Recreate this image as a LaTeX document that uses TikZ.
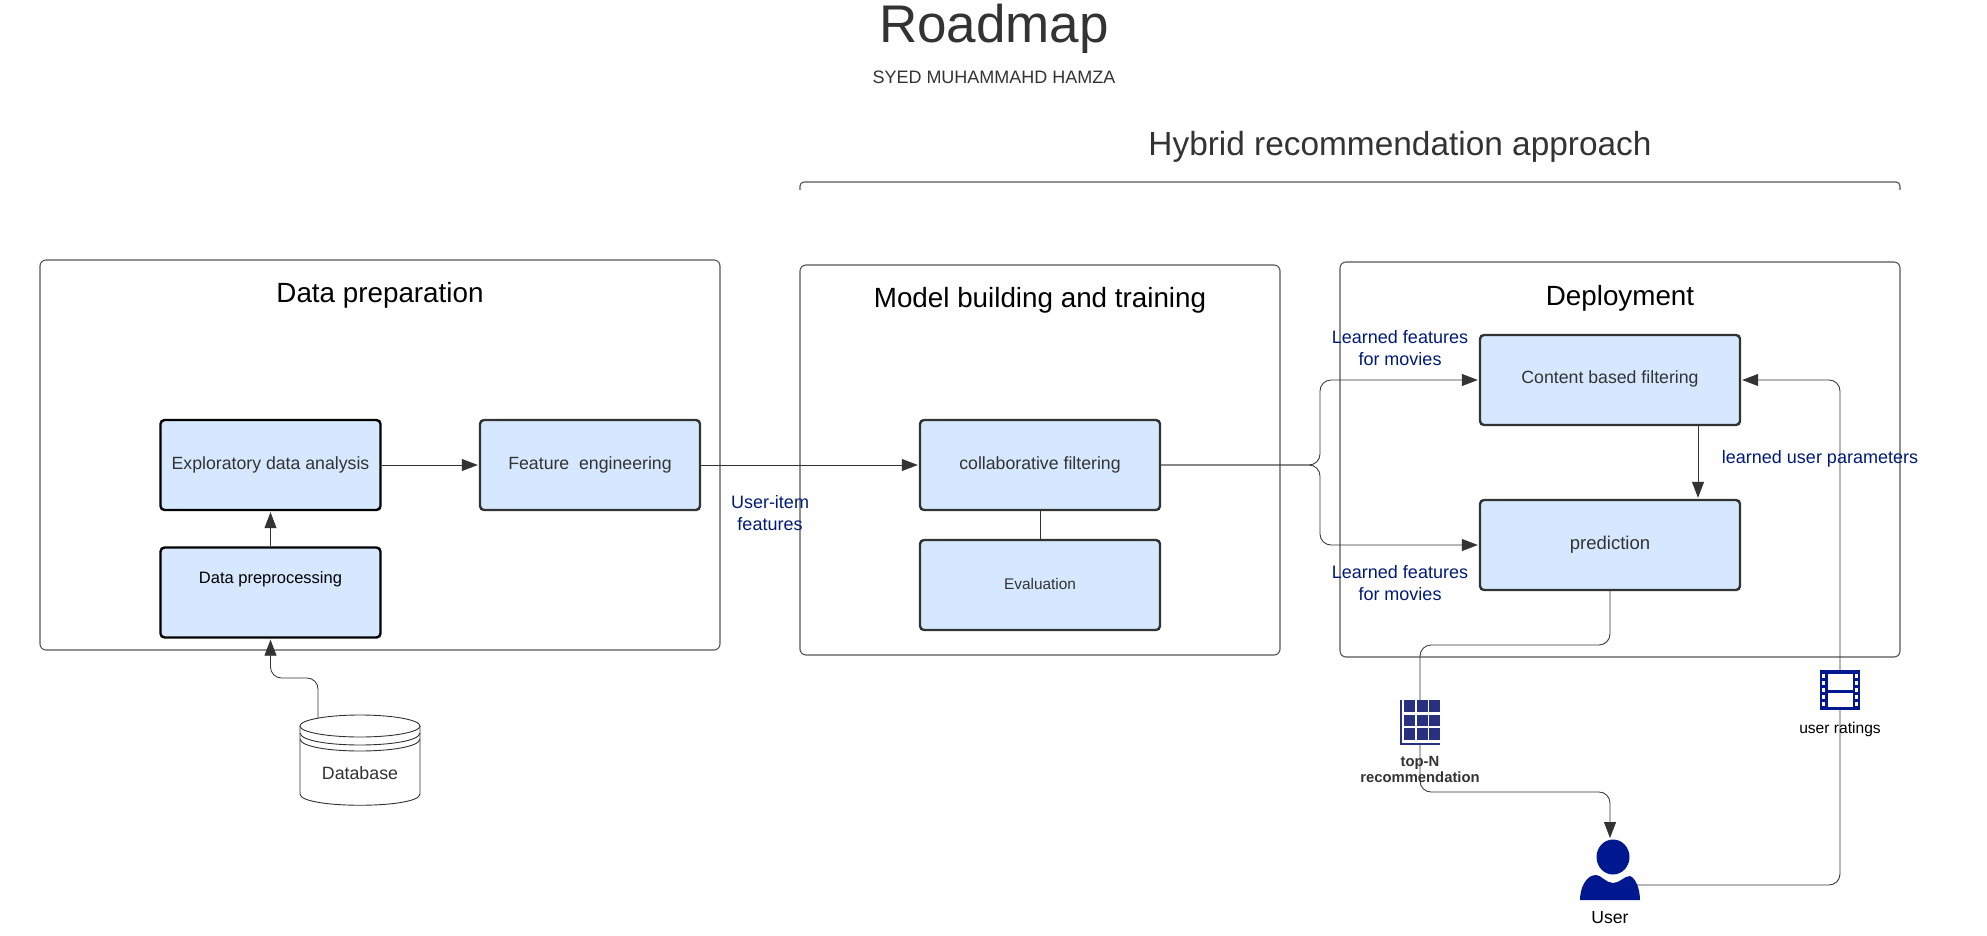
\documentclass[tikz,border=0pt]{standalone}
\usepackage{fontspec}
\setmainfont{Liberation Sans}
\usetikzlibrary{arrows.meta}
\definecolor{ink}{HTML}{333333}
\definecolor{boxfill}{HTML}{D5E8FF}
\definecolor{navy}{HTML}{00188F}
\definecolor{labelblue}{HTML}{001A78}
\definecolor{gridblue}{HTML}{2A3080}
\definecolor{framec}{HTML}{555555}
\newcommand{\fs}[1]{\fontsize{#1pt}{#1pt}\selectfont}
\tikzset{
  frame/.style={draw=framec,line width=1.1pt,rounded corners=6pt,minimum width=#1,inner sep=0pt},
  bx/.style={draw=ink,fill=boxfill,line width=2.4pt,rounded corners=4pt,minimum width=#1,minimum height=90pt,inner sep=0pt,text=ink},
  lbl/.style={inner sep=0pt,align=center,anchor=center},
  blue/.style={lbl,text=labelblue,font=\fs{18}},
  link/.style={draw=ink,line width=0.85pt,rounded corners=11pt},
  arr/.style={link,-{Triangle[length=16pt,width=12pt,color=ink]},shorten >=1pt},
}
\begin{document}
\begin{tikzpicture}[x=1pt,y=-1pt]
\useasboundingbox (0,0) rectangle (1987,936);
% frames
\node[frame=680pt,minimum height=390pt] (fdata) at (380,455) {};
\node[frame=480pt,minimum height=390pt] (fmodel) at (1040,460) {};
\node[frame=560pt,minimum height=395pt] (fdep) at (1620,459.5) {};
\draw[framec,line width=1.1pt,rounded corners=4pt] (800,190) -- (800,182) -- (1900,182) -- (1900,190);
% titles
\node[lbl,text=ink,font=\fs{53}] (title) at (994,29) {Roadmap};
\node[lbl,text=ink,font=\fs{18}] (author) at (994,77) {SYED MUHAMMAHD HAMZA};
\node[lbl,text=ink,font=\fs{33.4}] (hybrid) at (1400,147) {Hybrid recommendation approach};
\node[lbl,font=\fs{27.8}] (tdata) at (380,295) {Data preparation};
\node[lbl,font=\fs{27.8}] (tmodel) at (1040,300) {Model building and training};
\node[lbl,font=\fs{27.8}] (tdep) at (1620,298) {Deployment};
% coordinates for routes
\coordinate (split) at (1320,465);
\coordinate (drop) at (1698,460);
\coordinate (uout) at (1635,885);
\coordinate (ptop) at (1420,645);
\coordinate (pbot) at (1420,792);
\coordinate (uin) at (1610,839);
\coordinate (dbout) at (318,721);
\coordinate (dbmid) at (294,678);
% boxes
\node[bx=220pt,draw=black] (ep) at (270.5,465) {\fs{17.7}Exploratory data analysis};
\node[bx=220pt] (fe) at (590,465) {\fs{17.7}Feature\ \ engineering};
\node[bx=220pt,draw=black,text=black] (dp) at (270.5,592.5) {};
\node[lbl,font=\fs{16.5},text=black] (dpt) at (270.5,579) {Data preprocessing};
\node[bx=240pt] (cf) at (1040,465) {\fs{17.7}collaborative filtering};
\node[bx=240pt] (ev) at (1040,585) {};
\node[lbl,font=\fs{15.4},text=ink] (evt) at (1040,584) {Evaluation};
\node[bx=260pt] (cb) at (1610,380) {};
\node[lbl,font=\fs{17.7},text=ink] (cbt) at (1610,378.5) {Content based filtering};
\node[bx=260pt] (pr) at (1610,545) {\fs{18.5}prediction};
% connectors
\draw[arr] (ep) -- (fe);
\draw[arr] (fe) -- (cf);
\draw[arr] (dp) -- (ep);
\draw[link] (cf) -- (ev);
\draw[arr] (cf.east) -- (split) |- (cb.west);
\draw[arr] (cf.east) -- (split) |- (pr.west);
\draw[arr] (cb.south -| drop) -- (pr.north -| drop);
\draw[arr] (uout) -| (1840,600) |- (cb.east);
\draw[arr] (pr.south) |- (ptop) -- (pbot) -| (uin);
\draw[arr] (dbout) |- (dbmid) -| (dp.south);
% database
\begin{scope}[draw=ink,line width=0.9pt]
\draw[fill=white] (300,726) -- (300,794) .. controls (300,809) and (420,809) .. (420,794) -- (420,726);
\draw[fill=white] (360,726) ellipse [x radius=60,y radius=11];
\draw (300,733) .. controls (302,749) and (418,749) .. (420,733);
\draw (300,739) .. controls (302,755) and (418,755) .. (420,739);
\end{scope}
\node[lbl,text=ink,font=\fs{17.8}] (db) at (360,773) {Database};
% blue labels
\node[blue] (lf1) at (1400,348) {Learned features\\[4pt]for movies};
\node[blue] (lf2) at (1400,583) {Learned features\\[4pt]for movies};
\node[blue] (lup) at (1820,459) {learned user parameters};
\node[blue] (uif) at (770,513) {User-item\\[4pt]features};
% film icon
\fill[navy] (1820,670) rectangle (1860,710);
\fill[white] (1827.5,673.5) rectangle (1852.5,690);
\fill[white] (1827.5,693) rectangle (1852.5,706.5);
\foreach \yy in {673.5,680.5,687.5,694.5,701.5} {
  \fill[white] (1822,\yy) rectangle (1825,\yy+4);
  \fill[white] (1855,\yy) rectangle (1858,\yy+4);
}
\node[lbl,font=\fs{15.6},text=black] (film) at (1840,729) {user ratings};
% grid icon
\fill[white] (1400,700) rectangle (1440,745);
\fill[gridblue] (1400,700) rectangle (1402,745);
\fill[gridblue] (1400,742.5) rectangle (1440,745);
\foreach \xx/\ww in {1404/11,1416.5/11,1429/11} {
  \foreach \yy/\hh in {700/12,714.5/11,728/12} {
    \fill[gridblue] (\xx,\yy) rectangle (\xx+\ww,\yy+\hh);
  }
}
\node[lbl,font=\bfseries\fs{14.8},text=ink] (topn) at (1420,769.5) {top-N\\[2pt]recommendation};
% user icon
\fill[navy] (1613,857) ellipse [x radius=16.5,y radius=17.5];
\fill[navy] (1580,900) .. controls (1580,888) and (1586,875) .. (1596,875)
  .. controls (1601,875) and (1606,883) .. (1613,883)
  .. controls (1620,883) and (1624,876) .. (1630,876)
  .. controls (1636,878) and (1640,890) .. (1640,900) -- cycle;
\node[lbl,font=\fs{17.6},text=black] (user) at (1610,918) {User};
\end{tikzpicture}
\end{document}
